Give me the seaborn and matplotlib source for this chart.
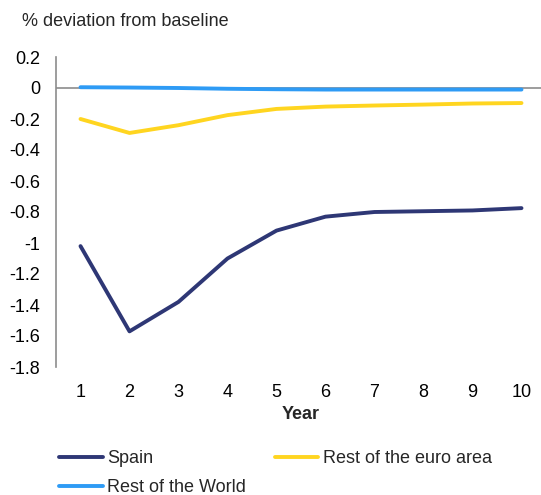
import matplotlib
matplotlib.use("Agg")
import matplotlib.pyplot as plt
import seaborn as sns
import pandas as pd
from matplotlib.lines import Line2D

years = [1, 2, 3, 4, 5, 6, 7, 8, 9, 10]
spain = [-1.02, -1.57, -1.38, -1.10, -0.92, -0.83, -0.80, -0.795, -0.79, -0.775]
rest_euro = [-0.20, -0.29, -0.24, -0.175, -0.135, -0.12, -0.113, -0.107, -0.10, -0.097]
rest_world = [0.005, 0.003, 0.0, -0.005, -0.008, -0.01, -0.01, -0.01, -0.01, -0.01]
series_names = ["Spain", "Rest of the euro area", "Rest of the World"]
colors = ["#2E3775", "#FFD520", "#2E9BF5"]
y_ticks = [0.2, 0, -0.2, -0.4, -0.6, -0.8, -1, -1.2, -1.4, -1.6, -1.8]
y_tick_labels = ["0.2", "0", "-0.2", "-0.4", "-0.6", "-0.8", "-1", "-1.2", "-1.4", "-1.6", "-1.8"]

df = pd.concat([
    pd.DataFrame({"Year": years, "value": vals, "series": name})
    for name, vals in zip(series_names, [spain, rest_euro, rest_world])
])

sns.set_theme(style="white")
plt.rcParams["font.family"] = ["Liberation Sans", "DejaVu Sans"]
FS = 13
LW = 2.8

fig = plt.figure(figsize=(5.41, 4.95), dpi=100)
ax = fig.add_axes([56 / 541, 1 - 367 / 495, 490 / 541, 310 / 495])

ax.axhline(0, color="#8c8c8c", lw=1.2, zorder=1)
sns.lineplot(data=df, x="Year", y="value", hue="series", hue_order=series_names,
             palette=colors, linewidth=LW, ax=ax, legend=False, zorder=3)

ax.set_xlim(0.5, 10.5)
ax.set_ylim(-1.8, 0.2)
ax.set_xticks(years)
ax.set_xticklabels([str(y) for y in years])
ax.set_yticks(y_ticks)
ax.set_yticklabels(y_tick_labels)
ax.tick_params(axis="both", length=0, labelsize=FS, colors="#000000")
ax.tick_params(axis="x", pad=12)
ax.tick_params(axis="y", pad=11.5)
for s in ["top", "right", "bottom"]:
    ax.spines[s].set_visible(False)
ax.spines["left"].set_color("#8c8c8c")
ax.spines["left"].set_linewidth(1.2)
ax.set_xlabel("Year", fontsize=FS, fontweight="bold", labelpad=4)
ax.set_ylabel("")
ax.grid(False)

fig.text(22 / 541, 1 - 22 / 495, "% deviation from baseline", fontsize=FS,
         ha="left", va="center")

# column-major fill: col1 = Spain, Rest of the World ; col2 = Rest of the euro area
order = [0, 2, 1]
handles = [Line2D([0], [0], color=colors[i], lw=LW) for i in order]
labels = [series_names[i] for i in order]
fig.legend(handles, labels, loc="upper left",
           bbox_to_anchor=(52 / 541, 1 - 443 / 495), ncol=2, frameon=False,
           fontsize=FS, handlelength=2.4, handletextpad=0.25,
           columnspacing=1.6, labelspacing=0.68, borderaxespad=0)

fig.savefig("out.png", dpi=100)
